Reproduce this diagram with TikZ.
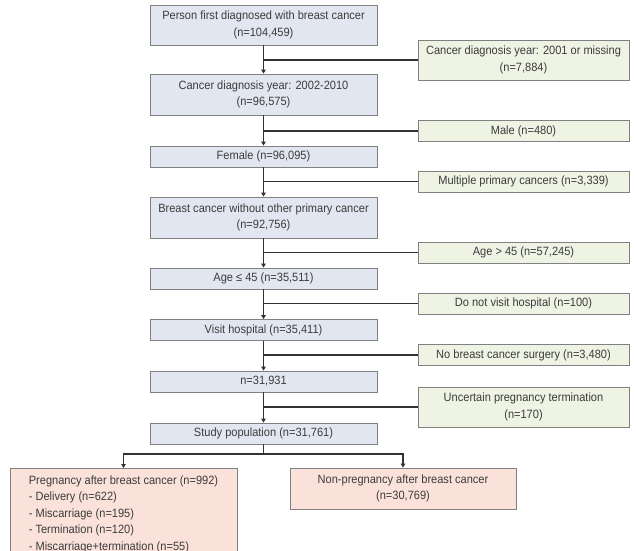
\documentclass[tikz,border=0pt]{standalone}
\usepackage{fontspec}
\setmainfont{Liberation Sans}[FakeStretch=0.92]
\usetikzlibrary{arrows.meta}
\definecolor{mainfill}{RGB}{226,230,240}
\definecolor{exclfill}{RGB}{238,243,228}
\definecolor{groupfill}{RGB}{250,226,218}
\definecolor{boxline}{RGB}{128,128,128}
\definecolor{inktext}{RGB}{60,60,60}
\definecolor{inkline}{RGB}{50,50,50}
\tikzset{
 stagebox/.style={draw=boxline,line width=.8pt,fill=mainfill,text=inktext,
   minimum width=227pt,minimum height=21pt,inner sep=0pt,align=center},
 exclbox/.style={stagebox,fill=exclfill,minimum width=211pt},
 groupbox/.style={stagebox,fill=groupfill},
 link/.style={draw=inkline,line width=1.3pt}
}
\begin{document}
\begin{tikzpicture}[x=1pt,y=-1pt,>={Triangle[length=4pt,width=4.5pt]},
 every node/.style={font=\fontsize{12}{16.5}\selectfont}]
 \useasboundingbox[fill=white] (0,0) rectangle (636,550);
 % main chain
 \node[stagebox,minimum height=40pt] (all) at (263.5,25)
   {Person first diagnosed with breast cancer\\(n=104,459)};
 \node[stagebox,minimum height=41pt] (year) at (263.5,94.5)
   {Cancer diagnosis year: 2002-2010\\(n=96,575)};
 \node[stagebox] (female) at (263.5,156.5) {Female (n=96,095)};
 \node[stagebox,minimum height=41pt] (single) at (263.5,217.5)
   {Breast cancer without other primary cancer\\(n=92,756)};
 \node[stagebox] (young) at (263.5,278.5) {Age ≤ 45 (n=35,511)};
 \node[stagebox] (visit) at (263.5,330) {Visit hospital (n=35,411)};
 \node[stagebox] (surgery) at (263.5,381.5) {n=31,931};
 \node[stagebox] (study) at (263.5,433.5) {Study population (n=31,761)};
 % exclusions
 \node[exclbox,minimum height=40pt] (xyear) at (523.5,60)
   {Cancer diagnosis year: 2001 or missing\\(n=7,884)};
 \node[exclbox] (xmale) at (523.5,131) {Male (n=480)};
 \node[exclbox] (xmulti) at (523.5,181.5) {Multiple primary cancers (n=3,339)};
 \node[exclbox] (xold) at (523.5,252.5) {Age \textgreater{} 45 (n=57,245)};
 \node[exclbox] (xvisit) at (523.5,303.5) {Do not visit hospital (n=100)};
 \node[exclbox] (xsurg) at (523.5,355) {No breast cancer surgery (n=3,480)};
 \node[exclbox,minimum height=40pt] (xterm) at (523.5,407)
   {Uncertain pregnancy termination\\(n=170)};
 % groups
 \node[groupbox,anchor=north,minimum height=91pt,align=left] (preg) at (123.5,468)
   {Pregnancy after breast cancer (n=992)\\- Delivery (n=622)\\- Miscarriage (n=195)\\
    - Termination (n=120)\\- Miscarriage+termination (n=55)};
 \node[groupbox,minimum width=226pt,minimum height=41pt] (nonpreg) at (403,488.5)
   {Non-pregnancy after breast cancer\\(n=30,769)};
 \coordinate (split) at (263.5,454);
 \foreach \a/\b/\x in {all/year/xyear,year/female/xmale,female/single/xmulti,
                       single/young/xold,young/visit/xvisit,visit/surgery/xsurg,
                       surgery/study/xterm}{
   \draw[link,->] (\a) -- (\b);
   \draw[link] (\x.west) -- (\x.west -| \a.south);
 }
 \draw[link] (study) -- (split);
 \draw[link,->] (split) -| (preg);
 \draw[link,->] (split) -| (nonpreg);
\end{tikzpicture}
\end{document}
